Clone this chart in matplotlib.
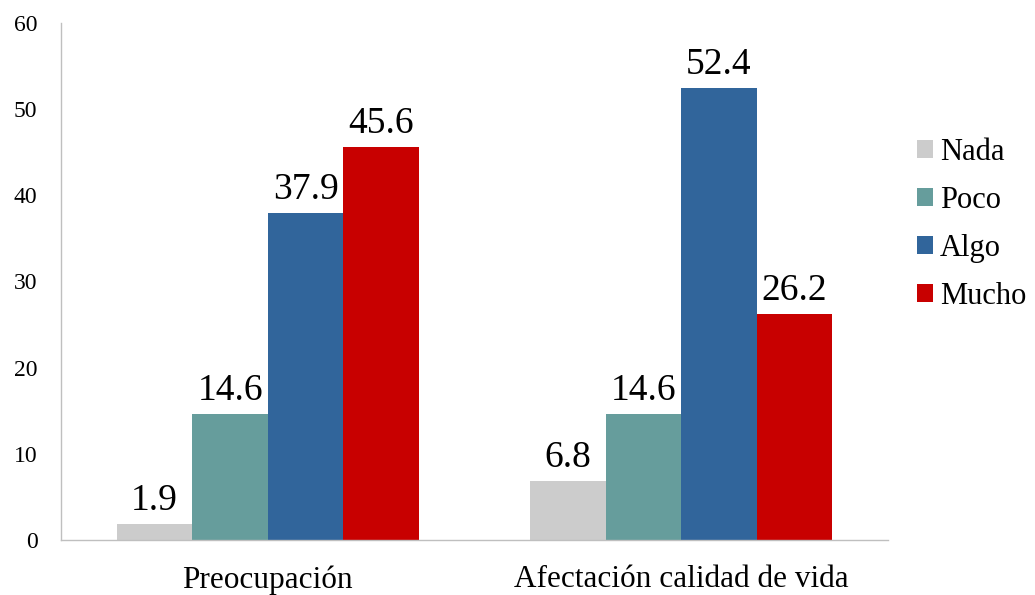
import numpy as np
import matplotlib.pyplot as plt

categories = ["Preocupación", "Afectación calidad de vida"]
levels = ["Nada", "Poco", "Algo", "Mucho"]
nada = [1.9, 6.8]
poco = [14.6, 14.6]
algo = [37.9, 52.4]
mucho = [45.6, 26.2]
colors = ["#CCCCCC", "#669D9C", "#31659B", "#C80000"]

plt.rcParams["font.family"] = ["Liberation Serif", "DejaVu Serif"]

fig = plt.figure(figsize=(10.35, 5.95), dpi=100)
ax = fig.add_axes([0.059, 0.0924, 0.799, 0.869])

x = np.arange(len(categories))
width = 0.73 / 4
for i, (name, vals) in enumerate(zip(levels, [nada, poco, algo, mucho])):
    pos = x + (i - 1.5) * width
    bars = ax.bar(pos, vals, width, color=colors[i], label=name)
    for b, v in zip(bars, vals):
        ax.text(b.get_x() + b.get_width() / 2, v + 0.7, f"{v:.1f}",
                ha="center", va="bottom", fontsize=27)

ax.set_xlim(-0.5, 1.5)
ax.set_ylim(0, 60)
ax.set_yticks(range(0, 61, 10))
ax.set_xticks(x)
ax.set_xticklabels(categories, fontsize=22.5)
ax.tick_params(axis="y", labelsize=17, length=0, pad=17)
ax.tick_params(axis="x", length=0, pad=18)
for s in ["top", "right"]:
    ax.spines[s].set_visible(False)
for s in ["left", "bottom"]:
    ax.spines[s].set_color("#BFBFBF")
    ax.spines[s].set_linewidth(1)

ax.legend(loc="center left", bbox_to_anchor=(1.035, 0.611), frameon=False,
          fontsize=22, handlelength=0.52, handleheight=0.52, handletextpad=0.23,
          labelspacing=0.62, borderpad=0, borderaxespad=0)

fig.savefig("out.png", dpi=100)
